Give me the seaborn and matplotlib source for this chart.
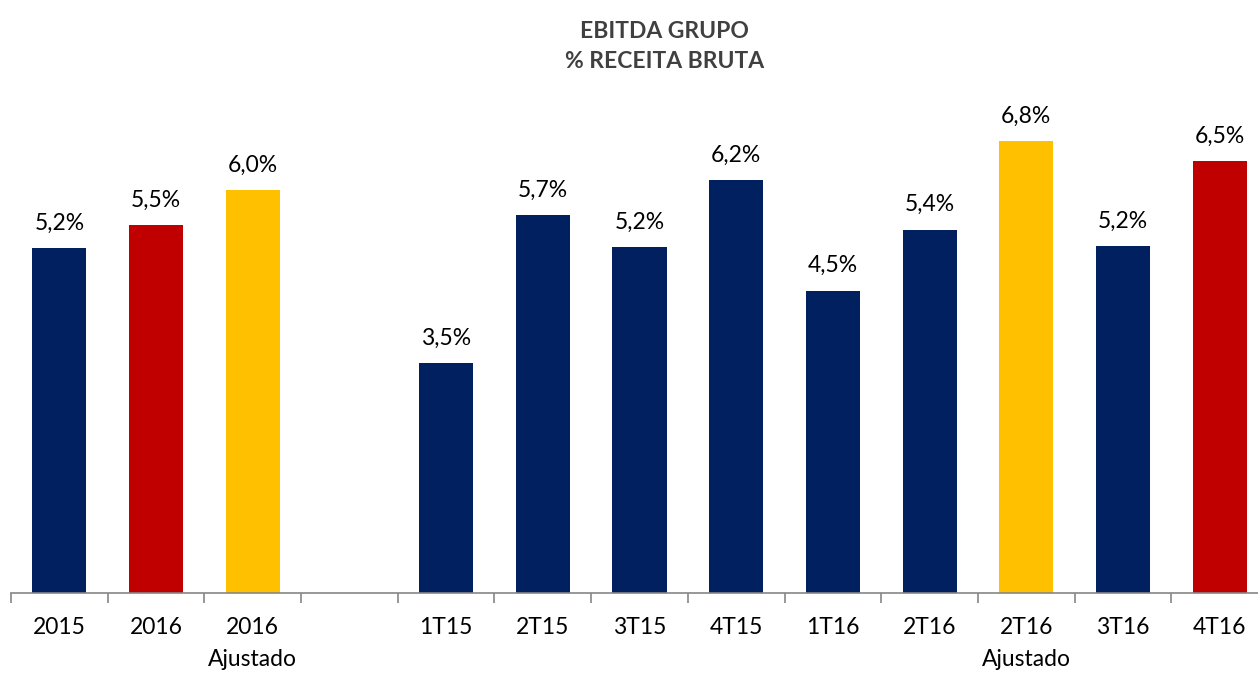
import matplotlib
matplotlib.use("Agg")
import matplotlib.pyplot as plt
import seaborn as sns
import pandas as pd
import numpy as np

# data
categories = ["2015", "2016", "2016\nAjustado", " ",
              "1T15", "2T15", "3T15", "4T15",
              "1T16", "2T16", "2T16\nAjustado", "3T16", "4T16"]
values = [5.2, 5.55, 6.08, 0.0,
          3.47, 5.7, 5.22, 6.23,
          4.56, 5.48, 6.82, 5.23, 6.52]
labels = ["5,2%", "5,5%", "6,0%", "",
          "3,5%", "5,7%", "5,2%", "6,2%",
          "4,5%", "5,4%", "6,8%", "5,2%", "6,5%"]
kinds = ["base", "real", "ajust", "gap",
         "base", "base", "base", "base",
         "base", "base", "ajust", "base", "real"]

palette = {"base": "#002060", "real": "#C00000", "ajust": "#FFC000", "gap": "#FFFFFF"}

sns.set_style("white")
plt.rcParams['font.family'] = ['Lato', 'DejaVu Sans']

df = pd.DataFrame({"cat": categories, "val": values, "kind": kinds})

fig = plt.figure(figsize=(12.58, 6.73), dpi=100)
ax = fig.add_axes([11 / 1258, 80 / 673, 1257 / 1258, 497 / 673])

sns.barplot(data=df, x="cat", y="val", hue="kind", palette=palette,
            order=categories, dodge=False, width=0.56, linewidth=0,
            saturation=1, legend=False, ax=ax)

for i, (v, lab) in enumerate(zip(values, labels)):
    if lab:
        ax.text(i, v + 0.22, lab, ha="center", va="bottom", fontsize=16.5, color="#000000")

ax.set_xlim(-0.5, len(categories) - 0.5)
ax.set_ylim(0, 7.5)
ax.set_xlabel("")
ax.set_ylabel("")
ax.set_yticks([])

for s in ["top", "right", "left"]:
    ax.spines[s].set_visible(False)
ax.spines["bottom"].set_color("#868686")
ax.spines["bottom"].set_linewidth(1.2)

ax.set_xticks(np.arange(len(categories)))
ax.set_xticklabels(categories, fontsize=16.5, color="#000000", linespacing=1.65)
ax.tick_params(axis="x", which="major", length=0, pad=17)
ax.set_xticks(np.arange(-0.5, len(categories) + 0.5, 1), minor=True)
ax.tick_params(axis="x", which="minor", bottom=True, length=7, width=1.2, color="#868686")

fig.text(0.5285, 1 - 31 / 673, "EBITDA GRUPO", ha="center", va="center",
         fontsize=16.5, fontweight="bold", color="#404040")
fig.text(0.5285, 1 - 61 / 673, "% RECEITA BRUTA", ha="center", va="center",
         fontsize=16.5, fontweight="bold", color="#404040")

fig.savefig("out.png", dpi=100)
